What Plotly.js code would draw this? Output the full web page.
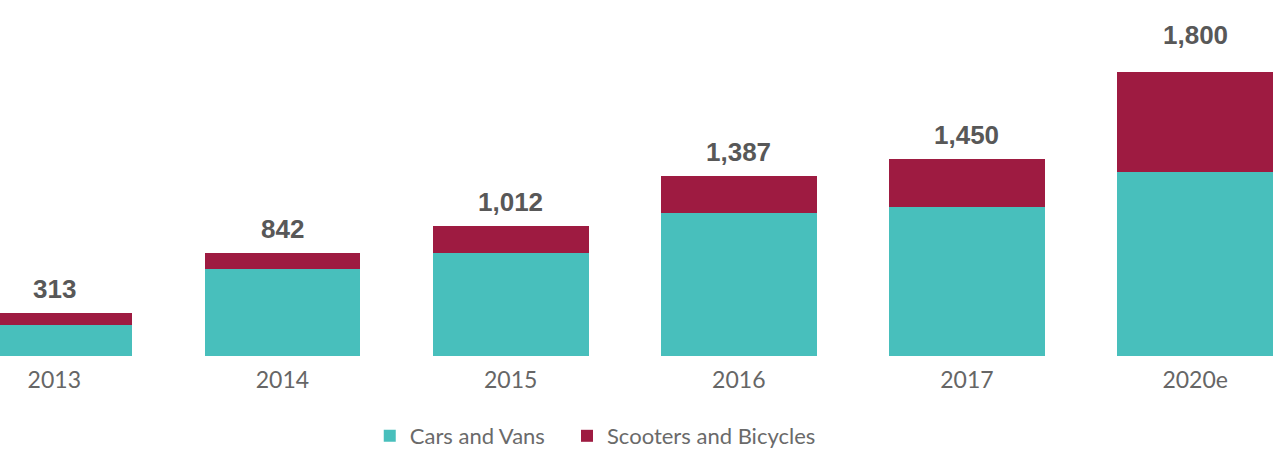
<!DOCTYPE html>
<html>
<head>
<meta charset="utf-8">
<script src="https://cdn.plot.ly/plotly-3.0.1.min.js"></script>
<style>html,body{margin:0;padding:0;background:#fff;}#chart{width:1275px;height:457px;}</style>
</head>
<body>
<div id="chart"></div>
<script>
// Categories and values (bar segments; totals are the printed labels)
const years = ["2013", "2014", "2015", "2016", "2017", "2020e"];
const carsAndVans = [196, 554, 652, 905, 946, 1167];
const scootersAndBicycles = [76, 101, 171, 240, 301, 633];
const totalLabels = ["313", "842", "1,012", "1,387", "1,450", "1,800"];

const teal = "#48BFBC";
const crimson = "#9E1B41";

const traces = [
  {
    type: "bar", name: "Cars and Vans", x: years, y: carsAndVans,
    marker: {color: teal}, hoverinfo: "x+y", legend: "legend"
  },
  {
    type: "bar", name: "Scooters and Bicycles", x: years, y: scootersAndBicycles,
    marker: {color: crimson}, hoverinfo: "x+y", legend: "legend2"
  }
];

const annotations = years.map((yr, i) => ({
  x: i,
  y: carsAndVans[i] + scootersAndBicycles[i],
  xref: "x", yref: "y",
  text: totalLabels[i],
  showarrow: false,
  yanchor: "bottom",
  yshift: i === years.length - 1 ? 20 : 7,
  font: {family: "Liberation Sans, Arial, sans-serif", size: 26, color: "#585858", weight: "bold"}
}));

const legendFont = {family: "Lato, sans-serif", size: 22, color: "#6a6a6a"};

const layout = {
  width: 1275, height: 457,
  margin: {l: 0, r: 0, t: 0, b: 100},
  paper_bgcolor: "#ffffff", plot_bgcolor: "#ffffff",
  barmode: "stack",
  bargap: 0.317,
  showlegend: true,
  legend: {
    orientation: "h", x: 0.290, xanchor: "left", y: -0.225, yanchor: "middle",
    font: legendFont, itemwidth: 30
  },
  legend2: {
    orientation: "h", x: 0.4447, xanchor: "left", y: -0.225, yanchor: "middle",
    font: legendFont, itemwidth: 30
  },
  xaxis: {
    type: "category", range: [-0.238, 5.35], fixedrange: true,
    showgrid: false, zeroline: false, showline: false, ticks: "",
    ticklabelstandoff: 8,
    tickfont: {family: "Lato, sans-serif", size: 23, color: "#666666"}
  },
  yaxis: {
    range: [0, 2259], visible: false, showgrid: false, zeroline: false, fixedrange: true
  },
  annotations: annotations
};

Plotly.newPlot("chart", traces, layout, {displayModeBar: false, staticPlot: true});
</script>
</body>
</html>
